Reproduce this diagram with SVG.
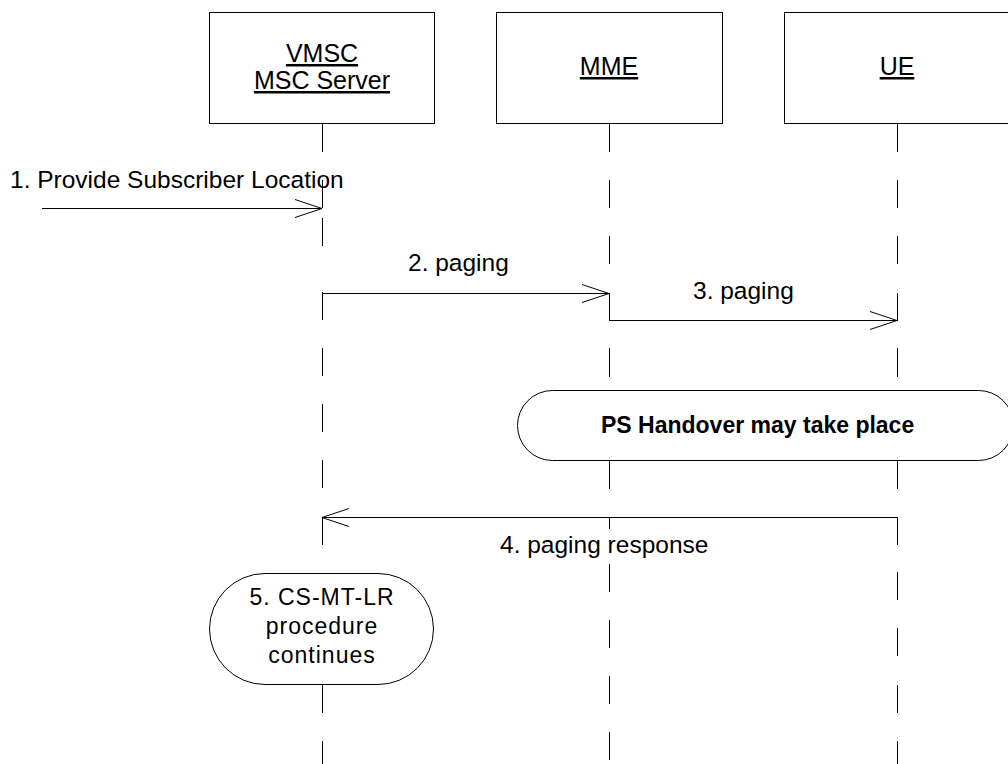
<svg xmlns="http://www.w3.org/2000/svg" width="1008" height="764" viewBox="0 0 1008 764">
<style>
  .box{fill:#fff;stroke:#000;stroke-width:1}
  .life{fill:none;stroke:#000;stroke-width:1}
  .msg{fill:none;stroke:#000;stroke-width:1}
  .title{font-family:"Liberation Sans",Arial,sans-serif;font-size:25px;fill:#000;text-decoration:underline}
  .lbl{font-family:"Liberation Sans",Arial,sans-serif;font-size:24.5px;fill:#000}
  .bold{font-family:"Liberation Sans",Arial,sans-serif;font-size:23px;font-weight:bold;fill:#000}
  .proc{font-family:"Liberation Sans",Arial,sans-serif;font-size:23px;letter-spacing:1px;fill:#000}
</style>
<defs>
  <marker id="open" markerUnits="userSpaceOnUse" markerWidth="30" markerHeight="20" viewBox="-28 -10 30 20" refX="0" refY="0" orient="auto" overflow="visible">
    <path d="M-27,-9 L0,0 L-27,9" fill="none" stroke="#000" stroke-width="1"/>
  </marker>
</defs>
<rect width="1008" height="764" fill="#fff"/>

<g id="lifelines">
  <path class="life" d="M322.5 124V152M322.5 180V208M322.5 218V246M322.5 292V320M322.5 348V376M322.5 404V432M322.5 460V488M322.5 517V545M322.5 685V713M322.5 741V764"/>
  <path class="life" d="M609.5 124V152M609.5 180V208M609.5 236V264M609.5 293V320M609.5 348V377M609.5 461V489M609.5 517V529M609.5 564V592M609.5 620V648M609.5 676V704M609.5 732V760"/>
  <path class="life" d="M897.5 124V152M897.5 180V208M897.5 236V264M897.5 293V321M897.5 348V377M897.5 461V489M897.5 517V545M897.5 572V600M897.5 628V656M897.5 685V713M897.5 741V764"/>
</g>

<g id="node-vmsc">
  <rect class="box" x="209.5" y="12.5" width="225" height="111"/>
  <text class="title" x="322" y="62" text-anchor="middle">VMSC</text>
  <text class="title" x="322" y="89" text-anchor="middle">MSC Server</text>
</g>
<g id="node-mme">
  <rect class="box" x="496.5" y="12.5" width="226" height="111"/>
  <text class="title" x="609" y="75" text-anchor="middle">MME</text>
</g>
<g id="node-ue">
  <rect class="box" x="784.5" y="12.5" width="228" height="111"/>
  <text class="title" x="897" y="75" text-anchor="middle">UE</text>
</g>

<g id="connectors">
  <line class="msg" x1="42" y1="208.5" x2="322" y2="208.5" marker-end="url(#open)"/>
  <text class="lbl" x="10" y="188">1. Provide Subscriber Location</text>
  <line class="msg" x1="322" y1="293.5" x2="609" y2="293.5" marker-end="url(#open)"/>
  <text class="lbl" x="408" y="271">2. paging</text>
  <line class="msg" x1="609" y1="320.5" x2="897" y2="320.5" marker-end="url(#open)"/>
  <text class="lbl" x="693" y="299">3. paging</text>
  <line class="msg" x1="897" y1="517.5" x2="322" y2="517.5" marker-end="url(#open)"/>
  <text class="lbl" x="500" y="553">4. paging response</text>
</g>

<g id="node-ps-handover">
  <rect class="box" x="517.5" y="390.5" width="496" height="70" rx="35" ry="35"/>
  <text class="bold" x="601" y="433">PS Handover may take place</text>
</g>

<g id="node-cs-mt-lr">
  <rect class="box" x="209.5" y="573.5" width="224" height="111" rx="55.5" ry="55.5"/>
  <text class="proc" x="322" y="605" text-anchor="middle">5. CS-MT-LR</text>
  <text class="proc" x="322" y="634" text-anchor="middle">procedure</text>
  <text class="proc" x="322" y="663" text-anchor="middle">continues</text>
</g>
</svg>
